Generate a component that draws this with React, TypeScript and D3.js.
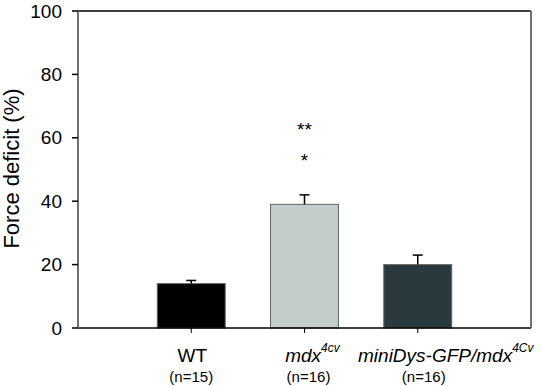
import { useEffect, useRef } from "react"
import * as d3 from "d3"

const groups = ["WT", "mdx", "miniDys"]
const means = [14, 39, 20]
const errors = [1, 3, 3]
const fills = ["#000000", "#c3cccb", "#2a393c"]
const nLabels = ["(n=15)", "(n=16)", "(n=16)"]
const yTicks = [0, 20, 40, 60, 80, 100]

const width = 541
const height = 386
const margin = { top: 11, right: 10, bottom: 58, left: 78 }
const font = "Arial, 'Liberation Sans', sans-serif"

const App = () => {
    const ref = useRef<SVGSVGElement>(null)

    useEffect(() => {
        const svg = d3.select(ref.current)
        svg.selectAll("*").remove()

        const x = d3.scalePoint<string>()
            .domain(groups)
            .range([margin.left, width - margin.right])
            .padding(1)
        const y = d3.scaleLinear()
            .domain([0, 100])
            .range([height - margin.bottom, margin.top])
        const barW = x.step() * 0.6
        const x0 = margin.left
        const x1 = width - margin.right

        // bars
        svg.selectAll("rect.bar")
            .data(means)
            .enter()
            .append("rect")
            .attr("class", "bar")
            .attr("x", (d, i) => x(groups[i])! - barW / 2)
            .attr("y", d => y(d))
            .attr("width", barW)
            .attr("height", d => y(0) - y(d))
            .attr("fill", (d, i) => fills[i])
            .attr("stroke", "#666")
            .attr("stroke-width", 1)

        // error bars (upper only)
        const eb = svg.selectAll("g.err").data(means).enter().append("g")
        eb.append("line")
            .attr("x1", (d, i) => x(groups[i])!)
            .attr("x2", (d, i) => x(groups[i])!)
            .attr("y1", d => y(d))
            .attr("y2", (d, i) => y(d + errors[i]))
            .attr("stroke", "#000")
            .attr("stroke-width", 1.5)
        eb.append("line")
            .attr("x1", (d, i) => x(groups[i])! - 5)
            .attr("x2", (d, i) => x(groups[i])! + 5)
            .attr("y1", (d, i) => y(d + errors[i]))
            .attr("y2", (d, i) => y(d + errors[i]))
            .attr("stroke", "#000")
            .attr("stroke-width", 1.5)

        // frame
        svg.append("line").attr("x1", x0).attr("x2", x1).attr("y1", y(100)).attr("y2", y(100))
            .attr("stroke", "#000").attr("stroke-width", 1.5)
        svg.append("line").attr("x1", x0).attr("x2", x1).attr("y1", y(0)).attr("y2", y(0))
            .attr("stroke", "#000").attr("stroke-width", 1.5)
        svg.append("line").attr("x1", x1).attr("x2", x1).attr("y1", y(100)).attr("y2", y(0))
            .attr("stroke", "#707070").attr("stroke-width", 2)
        svg.append("line").attr("x1", x0).attr("x2", x0).attr("y1", y(100)).attr("y2", y(0))
            .attr("stroke", "#707070").attr("stroke-width", 2)

        // y ticks
        const yt = svg.selectAll("g.yt").data(yTicks).enter().append("g")
        yt.append("line")
            .attr("x1", x0 - 6).attr("x2", x0)
            .attr("y1", d => y(d)).attr("y2", d => y(d))
            .attr("stroke", "#000").attr("stroke-width", 1.5)
        yt.append("text")
            .attr("x", x0 - 16)
            .attr("y", d => y(d))
            .attr("dy", "0.35em")
            .attr("text-anchor", "end")
            .attr("font-family", font)
            .attr("font-size", 19)
            .text(d => d)

        // x ticks
        svg.selectAll("line.xt").data(groups).enter().append("line")
            .attr("x1", d => x(d)!).attr("x2", d => x(d)!)
            .attr("y1", y(0)).attr("y2", y(0) + 5)
            .attr("stroke", "#000").attr("stroke-width", 1)

        // y label
        svg.append("text")
            .attr("transform", `translate(19, ${(y(0) + y(100)) / 2 - 1}) rotate(-90)`)
            .attr("text-anchor", "middle")
            .attr("font-family", font)
            .attr("font-size", 22)
            .text("Force deficit (%)")

        // category labels
        const labelY = 362
        svg.append("text")
            .attr("x", x("WT")! + 1).attr("y", labelY)
            .attr("text-anchor", "middle").attr("font-family", font).attr("font-size", 19)
            .text("WT")

        const t2 = svg.append("text")
            .attr("x", x("mdx")! + 8).attr("y", labelY)
            .attr("text-anchor", "middle").attr("font-family", font).attr("font-size", 19)
            .attr("font-style", "italic")
        t2.append("tspan").text("mdx")
        t2.append("tspan").attr("dy", -10).attr("font-size", 12).text("4cv")

        const t3 = svg.append("text")
            .attr("x", x("miniDys")! + 28).attr("y", labelY)
            .attr("text-anchor", "middle").attr("font-family", font).attr("font-size", 19)
            .attr("font-style", "italic")
        t3.append("tspan").text("miniDys-GFP/mdx")
        t3.append("tspan").attr("dy", -10).attr("font-size", 12).text("4Cv")

        const nOffsets = [0, 4, 6]
        svg.selectAll("text.n").data(nLabels).enter().append("text")
            .attr("x", (d, i) => x(groups[i])! + nOffsets[i])
            .attr("y", 382)
            .attr("text-anchor", "middle").attr("font-family", font).attr("font-size", 15)
            .text(d => d)

        // significance marks
        svg.append("text")
            .attr("x", x("mdx")!).attr("y", y(60.6))
            .attr("text-anchor", "middle").attr("font-family", font).attr("font-size", 19)
            .text("**")
        svg.append("text")
            .attr("x", x("mdx")!).attr("y", y(50.8))
            .attr("text-anchor", "middle").attr("font-family", font).attr("font-size", 19)
            .text("*")
    })

    return (
        <svg ref={ref} width={width} height={height}
            style={{ position: "absolute", left: 0, top: 0, background: "#fff" }} />
    )
}

export default App
